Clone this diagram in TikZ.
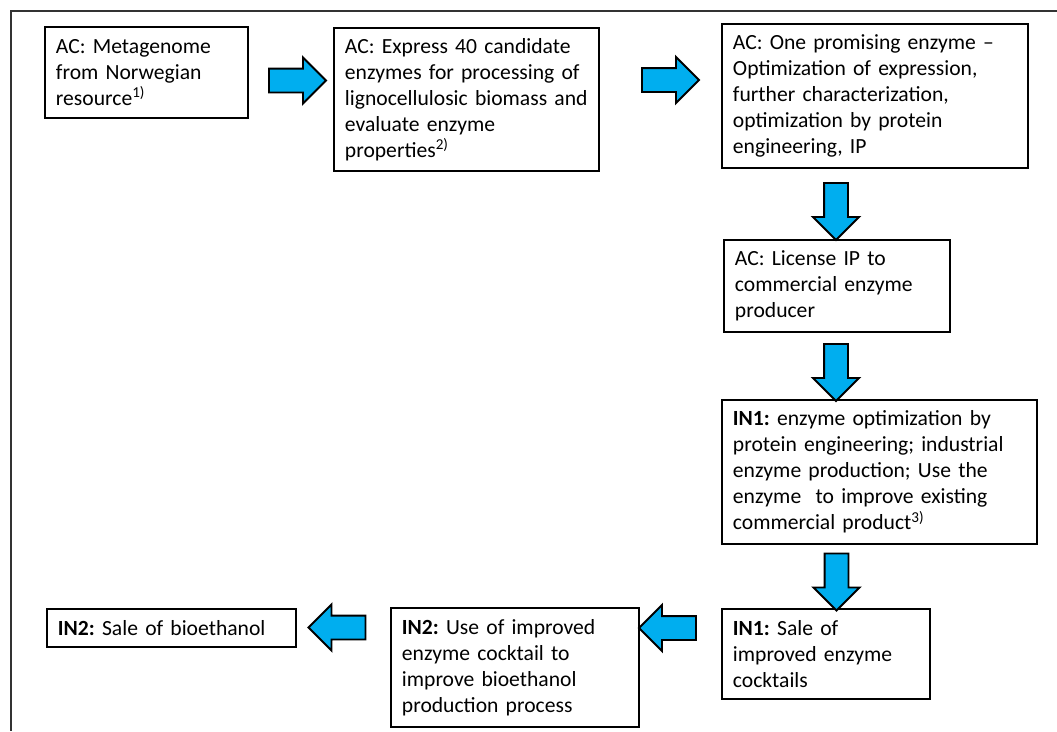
\documentclass[tikz,border=0pt]{standalone}
\usepackage{fontspec}
\setmainfont{Carlito}
\usetikzlibrary{shapes.arrows}
\definecolor{arrowblue}{RGB}{0,174,239}

\begin{document}
\begin{tikzpicture}[x=0.02cm, y=-0.02cm,
    box/.style={draw, line width=1.1pt, anchor=north west, align=left, inner xsep=0.22cm,
        font=\fontsize{12.3}{14.8}\selectfont\frenchspacing},
    blockarrow/.style={single arrow, draw, line width=1.1pt, fill=arrowblue,
        minimum height=1.14cm, inner sep=0.22cm, single arrow head extend=0.22cm}]
\useasboundingbox (0,0) rectangle (1057,731);
\draw[line width=0.6pt, black!80] (1057,11) -- (11,11) -- (11,731);

% academic steps
\node[box, text width=3.62cm, minimum width=4.06cm, minimum height=1.82cm] (meta) at (44,26)
    {AC: Metagenome\\ from Norwegian\\ resource\textsuperscript{1)}};
\node[box, text width=4.86cm, minimum width=5.30cm, minimum height=2.86cm] (express) at (333,27)
    {AC: Express 40 candidate\\ enzymes for processing of\\ lignocellulosic biomass and\\ evaluate enzyme\\ properties\textsuperscript{2)}};
\node[box, text width=5.68cm, minimum width=6.12cm, minimum height=2.88cm] (promising) at (721,23)
    {AC: One promising enzyme --\\ Optimization of expression,\\ further characterization,\\ optimization by protein\\ engineering, IP};
\node[box, text width=4.08cm, minimum width=4.52cm, minimum height=1.84cm] (license) at (723,239)
    {AC: License IP to\\ commercial enzyme\\ producer};

% industry steps
\node[box, text width=5.86cm, minimum width=6.30cm, minimum height=2.88cm] (optim) at (721,399)
    {\textbf{IN1:} enzyme optimization by\\ protein engineering; industrial\\ enzyme production; Use the\\ enzyme\ \ to improve existing\\ commercial product\textsuperscript{3)}};
\node[box, text width=3.72cm, minimum width=4.16cm, minimum height=1.80cm] (sale1) at (721,608)
    {\textbf{IN1:} Sale of\\ improved enzyme\\ cocktails};
\node[box, text width=4.52cm, minimum width=4.96cm, minimum height=2.38cm] (use2) at (390,607)
    {\textbf{IN2:} Use of improved\\ enzyme cocktail to\\ improve bioethanol\\ production process};
\node[box, text width=4.54cm, minimum width=4.98cm, minimum height=0.76cm] (sale2) at (46,608)
    {\textbf{IN2:} Sale of bioethanol};

\foreach \x/\y/\r/\n in {291.5/80.5/0/1, 664.5/80/0/2, 836/205.5/-90/3, 836/366.5/-90/4,
    836.5/576/-90/5, 673.5/628/180/6, 343/627.5/180/7}
  \node[blockarrow, rotate=\r] (arr\n) at (\x,\y) {};
\end{tikzpicture}
\end{document}
